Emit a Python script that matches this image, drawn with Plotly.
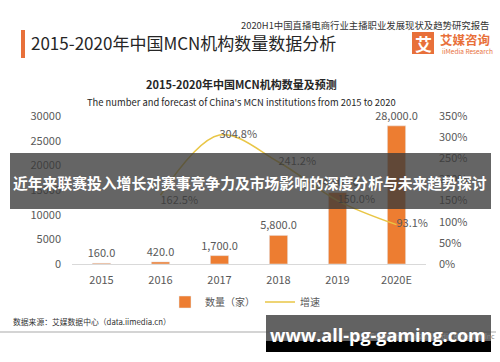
import plotly.graph_objects as go

# ---- data ----
years = ["2015", "2016", "2017", "2018", "2019", "2020E"]
counts = [160, 420, 1700, 5800, 14500, 28000]
growth = [None, 1.625, 3.048, 2.412, 1.500, 0.931]
growth_pos = ["middle right", "bottom right", "middle right", "middle right", "middle right", "middle right"]

left_ticks = [0, 5000, 10000, 15000, 20000, 25000, 30000]
right_ticks = [0, 0.5, 1.0, 1.5, 2.0, 2.5, 3.0, 3.5]

W, H = 500, 362
ML, MR, MT, MB = 72, 74, 116, 98
PW, PH = W - ML - MR, H - MT - MB

def px(x):
    return (x - ML) / PW

def py(y):
    return (H - MB - y) / PH

FONT = "Noto Sans CJK SC"
ORANGE = "#ED7D31"
GOLD = "#E9C646"
GRAY = "#595959"

fig = go.Figure()
fig.add_trace(go.Bar(
    x=years, y=counts, name="数量（家）", marker_color=ORANGE,
    texttemplate="%{y:,.1f}", textposition="outside", cliponaxis=False,
    constraintext="none",
    textfont=dict(size=11, color=GRAY, family=FONT),
))
fig.add_trace(go.Scatter(
    x=years, y=growth, name="增速", yaxis="y2", mode="lines+text",
    line=dict(color=GOLD, width=1.5, shape="spline", smoothing=1.0),
    texttemplate="%{y:.1%}", textposition=growth_pos, cliponaxis=False,
    textfont=dict(size=11, color=GRAY, family=FONT),
))

fig.update_layout(
    width=W, height=H,
    margin=dict(l=ML, r=MR, t=MT, b=MB, autoexpand=False),
    paper_bgcolor="white", plot_bgcolor="white",
    font=dict(family=FONT, color=GRAY),
    bargap=0.69,
    xaxis=dict(type="category", showline=True, linecolor="#d9d9d9", linewidth=1,
               showgrid=False, ticks="", tickfont=dict(size=11, color=GRAY),
               ticklabelstandoff=6, automargin=False),
    yaxis=dict(range=[0, 30000], tickvals=left_ticks, tickformat="d",
               showgrid=False, zeroline=False, showline=False, automargin=False,
               tickfont=dict(size=11, color=GRAY), ticklabelstandoff=10),
    yaxis2=dict(range=[0, 3.5], tickvals=right_ticks, tickformat=".0%",
                overlaying="y", side="right", showgrid=False, zeroline=False,
                showline=False, tickfont=dict(size=11, color=GRAY),
                ticklabelstandoff=12, automargin=False),
    showlegend=True,
    legend=dict(orientation="h", x=px(245), xanchor="center", y=py(302),
                yanchor="middle", font=dict(size=10, color=GRAY),
                bgcolor="rgba(0,0,0,0)", itemwidth=30),
)

shapes = []
annotations = []

# header
shapes.append(dict(type="rect", xref="paper", yref="paper",
                   x0=px(21), x1=px(25), y0=py(30), y1=py(58),
                   fillcolor="#E8703A", line_width=0))
annotations.append(dict(text="2015-2020年中国MCN机构数量数据分析", xref="paper", yref="paper",
                        x=px(29), y=py(42), xanchor="left", yanchor="middle",
                        showarrow=False, font=dict(size=17, color="#262626", family=FONT)))
annotations.append(dict(text="2020H1中国直播电商行业主播职业发展现状及趋势研究报告", xref="paper", yref="paper",
                        x=px(491), y=py(25), xanchor="right", yanchor="middle",
                        showarrow=False, font=dict(size=9.4, color="#333333", family=FONT)))
# logo
shapes.append(dict(type="rect", xref="paper", yref="paper",
                   x0=px(412), x1=px(434), y0=py(32), y1=py(54),
                   fillcolor="#E8703A", line_width=0))
annotations.append(dict(text="<b>艾</b>", xref="paper", yref="paper",
                        x=px(423), y=py(43), xanchor="center", yanchor="middle",
                        showarrow=False, font=dict(size=17, color="white", family=FONT)))
annotations.append(dict(text="<b>艾媒咨询</b>", xref="paper", yref="paper",
                        x=px(438), y=py(40), xanchor="left", yanchor="middle",
                        showarrow=False, font=dict(size=12.5, color="#E8703A", family=FONT)))
annotations.append(dict(text="iiMedia Research", xref="paper", yref="paper",
                        x=px(440), y=py(51), xanchor="left", yanchor="middle",
                        showarrow=False, font=dict(size=6.5, color="#E8703A", family=FONT)))

# chart titles
annotations.append(dict(text="<b>2015-2020年中国MCN机构数量及预测</b>", xref="paper", yref="paper",
                        x=px(241), y=py(84), xanchor="center", yanchor="middle",
                        showarrow=False, font=dict(size=11, color="#262626", family=FONT)))
annotations.append(dict(text="The number and forecast of China's MCN institutions from 2015 to 2020",
                        xref="paper", yref="paper",
                        x=px(241), y=py(102), xanchor="center", yanchor="middle",
                        showarrow=False, font=dict(size=9.4, color="#262626", family=FONT)))

# source + footer line
annotations.append(dict(text="数据来源：艾媒数据中心（data.iimedia.cn）", xref="paper", yref="paper",
                        x=px(11), y=py(321), xanchor="left", yanchor="middle",
                        showarrow=False, font=dict(size=7.8, color="#333333", family=FONT)))
shapes.append(dict(type="line", xref="paper", yref="paper",
                   x0=px(0), x1=px(496), y0=py(332), y1=py(332),
                   line=dict(color="#aaaaaa", width=1.2)))
annotations.append(dict(text="Copyright © 2020 iiMedia Research Inc", xref="paper", yref="paper",
                        x=px(497), y=py(336), xanchor="right", yanchor="middle",
                        showarrow=False, font=dict(size=7, color="#888888", family=FONT)))

# overlay band
shapes.append(dict(type="rect", xref="paper", yref="paper", layer="above",
                   x0=px(10), x1=px(491), y0=py(153), y1=py(209),
                   fillcolor="rgba(58,58,58,0.78)", line_width=0))
annotations.append(dict(text="<b>近年来联赛投入增长对赛事竞争力及市场影响的深度分析与未来趋势探讨</b>",
                        xref="paper", yref="paper",
                        x=px(250), y=py(182), xanchor="center", yanchor="middle",
                        showarrow=False, font=dict(size=14.8, color="white", family=FONT)))

# bottom watermark
shapes.append(dict(type="rect", xref="paper", yref="paper", layer="above",
                   x0=px(266), x1=px(491), y0=py(315), y1=py(341),
                   fillcolor="rgba(70,70,70,0.85)", line_width=0))
shapes.append(dict(type="rect", xref="paper", yref="paper", layer="above",
                   x0=px(266), x1=px(491), y0=py(341), y1=py(352),
                   fillcolor="black", line_width=0))
annotations.append(dict(text="<b>www.all-pg-gaming.com</b>", xref="paper", yref="paper",
                        x=px(378), y=py(335), xanchor="center", yanchor="middle",
                        showarrow=False, font=dict(size=18, color="white", family="Open Sans")))

fig.update_layout(shapes=shapes, annotations=annotations)
fig.write_html("out.html", config={"displayModeBar": False},
               post_script="document.body.style.margin='0';document.body.style.padding='0';")
